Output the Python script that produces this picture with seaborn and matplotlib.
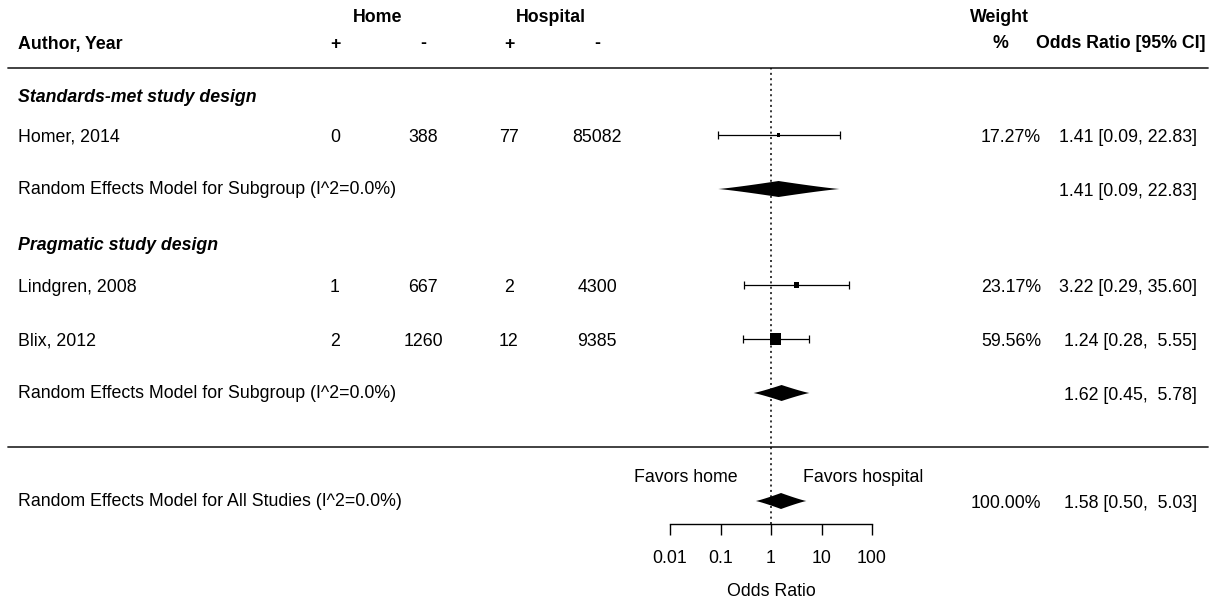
import numpy as np
import pandas as pd
import matplotlib
matplotlib.use('Agg')
import matplotlib.pyplot as plt
import seaborn as sns

# study level data
authors = ['Homer, 2014', 'Lindgren, 2008', 'Blix, 2012']
study_group = [0, 1, 1]
home_pos = [0, 1, 2]
home_neg = [388, 667, 1260]
hosp_pos = [77, 2, 12]
hosp_neg = [85082, 4300, 9385]
or_est = [1.41, 3.22, 1.24]
ci_lo = [0.09, 0.29, 0.28]
ci_hi = [22.83, 35.60, 5.55]
weights = [17.27, 23.17, 59.56]

# subgroup and overall random effects models
groups = ['Standards-met study design', 'Pragmatic study design']
sub_est = [1.41, 1.62]
sub_lo = [0.09, 0.45]
sub_hi = [22.83, 5.78]
sub_i2 = [0.0, 0.0]
all_est = 1.58
all_lo = 0.50
all_hi = 5.03
all_i2 = 0.0
all_weight = 100.00

or_ticks = [0.01, 0.1, 1, 10, 100]

df = pd.DataFrame({'Author': authors, 'Group': study_group, 'OR': or_est,
                   'Lo': ci_lo, 'Hi': ci_hi, 'Weight': weights})

# layout (pixel rows of the table)
W, H = 1216, 602
study_y = [135, 285, 339]
group_y = [98, 246]
sub_y = [189, 393]
all_y = 501
fs = 12.8

sns.set_style('white')
plt.rcParams['font.family'] = ['Liberation Sans', 'DejaVu Sans']
plt.rcParams['text.color'] = 'black'
plt.rcParams['axes.labelcolor'] = 'black'

fig = plt.figure(figsize=(W / 100, H / 100), dpi=100)
tab = fig.add_axes([0, 0, 1, 1])
tab.set_xlim(0, W)
tab.set_ylim(H, 0)
tab.axis('off')

x0, x1 = 670, 872
ytop, ybot = 68, 524
ax = fig.add_axes([x0 / W, 1 - ybot / H, (x1 - x0) / W, (ybot - ytop) / H])
ax.patch.set_alpha(0)
ax.set_xscale('log')
ax.set_xlim(or_ticks[0], or_ticks[-1])
ax.set_ylim(ybot, ytop)
for s in ['top', 'left', 'right']:
    ax.spines[s].set_visible(False)
ax.spines['bottom'].set_linewidth(1.0)
ax.spines['bottom'].set_color('black')
ax.set_yticks([])

# header
hdr = dict(fontsize=fs, fontweight='bold', va='center')
tab.text(378, 17, 'Home', ha='center', **hdr)
tab.text(551, 17, 'Hospital', ha='center', **hdr)
tab.text(999, 17, 'Weight', ha='center', **hdr)
tab.text(18, 44, 'Author, Year', ha='left', **hdr)
for xc, s in zip([335, 423, 509, 597], ['+', '-', '+', '-']):
    tab.text(xc, 44, s, ha='center', **hdr)
tab.text(1000, 44, '%', ha='center', **hdr)
tab.text(1205, 44, 'Odds Ratio [95% CI]', ha='right', **hdr)

for yl in [68, 447]:
    tab.plot([8, 1208], [yl, yl], color='#333333', lw=1.3)

ax.axvline(1, color='black', ls=(0, (1.3, 2.2)), lw=1.1)

txt = dict(fontsize=fs, va='center')

# group labels
for g, yg in zip(groups, group_y):
    tab.text(18, yg, g, ha='left', fontweight='bold', style='italic', **txt)

# studies
for i, row in df.iterrows():
    y = study_y[i]
    tab.text(18, y + 2, row['Author'], ha='left', **txt)
    for xc, v in zip([335, 423, 509, 597],
                     [home_pos[i], home_neg[i], hosp_pos[i], hosp_neg[i]]):
        tab.text(xc, y + 3, str(v), ha='center', **txt)
    tab.text(1041, y + 2, f"{row['Weight']:.2f}%", ha='right', **txt)
    tab.text(1197, y + 2, f"{row['OR']:.2f} [{row['Lo']:.2f}, {row['Hi']:5.2f}]",
             ha='right', **txt)
    ax.errorbar(row['OR'], y, xerr=[[row['OR'] - row['Lo']], [row['Hi'] - row['OR']]],
                fmt='none', ecolor='black', elinewidth=0.9, capsize=3.2,
                capthick=0.9, clip_on=False)

df['y'] = study_y
sns.scatterplot(data=df, x='OR', y='y', size='Weight', sizes=(5, 64), marker='s',
                color='black', linewidth=0, legend=False, ax=ax, clip_on=False, zorder=3)
ax.set_ylabel('')

ax.set_xticks(or_ticks)
ax.set_xticklabels([f'{t:g}' for t in or_ticks])
ax.minorticks_off()
ax.tick_params(axis='x', direction='out', length=8, width=1.0, pad=11,
               labelsize=fs, colors='black', bottom=True)
ax.set_xlabel('Odds Ratio', fontsize=fs, labelpad=11)


def diamond(est, lo, hi, y, h=8.0, p=1.15):
    le, ll, lh = np.log10(est), np.log10(lo), np.log10(hi)
    xs = np.linspace(ll, lh, 200)
    half = np.where(xs <= le, ((xs - ll) / (le - ll)) ** p, ((lh - xs) / (lh - le)) ** p) * h
    px = np.concatenate([xs, xs[::-1]])
    py = np.concatenate([y - half, (y + half)[::-1]])
    ax.fill(10 ** px, py, color='black', lw=0, clip_on=False, zorder=3)


for k in range(len(groups)):
    y = sub_y[k]
    diamond(sub_est[k], sub_lo[k], sub_hi[k], y)
    tab.text(18, y + 1, f'Random Effects Model for Subgroup (I^2={sub_i2[k]:.1f}%)', ha='left', **txt)
    tab.text(1197, y + 2, f'{sub_est[k]:.2f} [{sub_lo[k]:.2f}, {sub_hi[k]:5.2f}]', ha='right', **txt)

diamond(all_est, all_lo, all_hi, all_y)
tab.text(18, all_y + 1, f'Random Effects Model for All Studies (I^2={all_i2:.1f}%)', ha='left', **txt)
tab.text(1041, all_y + 2, f'{all_weight:.2f}%', ha='right', **txt)
tab.text(1197, all_y + 2, f'{all_est:.2f} [{all_lo:.2f}, {all_hi:5.2f}]', ha='right', **txt)

ax.annotate('Favors home', xy=(1, 477), xytext=(-24, 0), textcoords='offset points',
            ha='right', va='center', fontsize=fs, annotation_clip=False)
ax.annotate('Favors hospital', xy=(1, 477), xytext=(23, 0), textcoords='offset points',
            ha='left', va='center', fontsize=fs, annotation_clip=False)

fig.savefig('out.png', dpi=100, facecolor='white')
